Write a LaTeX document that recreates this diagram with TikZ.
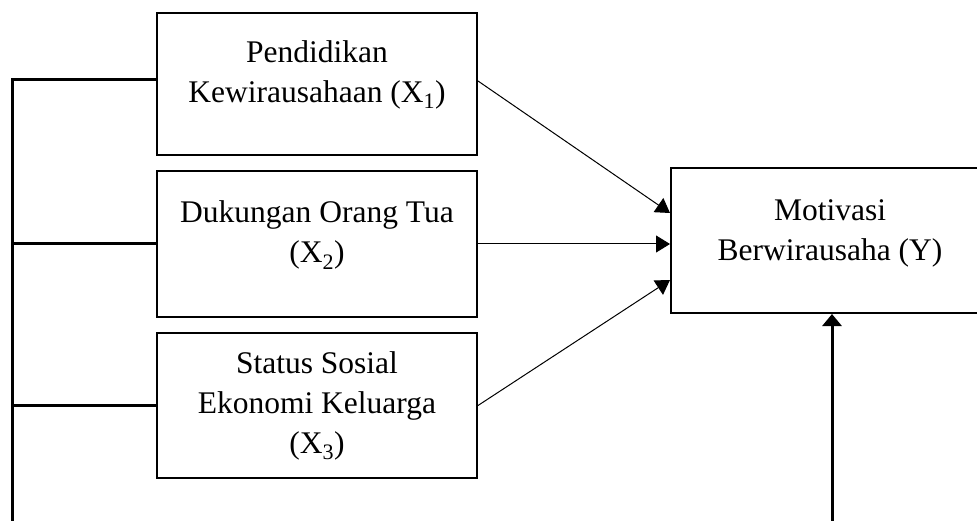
\documentclass[tikz,border=0pt]{standalone}
\usepackage{fontspec}
\setmainfont{Liberation Serif}
\usetikzlibrary{arrows.meta}
\begin{document}
\begin{tikzpicture}[x=1pt,y=-1pt,
  box/.style={draw, line width=2pt, inner sep=0pt},
  txt/.style={inner sep=0pt, align=center, anchor=base, font=\fontsize{31.5}{40}\selectfont},
  thinarrow/.style={line width=1pt, -{Triangle[length=14pt,width=17pt]}},
  thickarrow/.style={line width=3pt, -{Triangle[length=12pt,width=19pt]}},
  bracket/.style={line width=3pt}]
\useasboundingbox (0,0) rectangle (977,521);
% boxes
\node[box, minimum width=320pt, minimum height=142pt] (b1) at (317,84) {};
\node[box, minimum width=320pt, minimum height=146pt] (b2) at (317,244) {};
\node[box, minimum width=320pt, minimum height=145pt] (b3) at (317,405.5) {};
\node[box, minimum width=318pt, minimum height=145pt] (Y) at (830,240.5) {};
% texts (anchored at the baseline of the last line)
\node[txt] (t1) at (317,103) {Pendidikan\\Kewirausahaan (X\textsubscript{1})};
\node[txt] (t2) at (317,263) {Dukungan Orang Tua\\(X\textsubscript{2})};
\node[txt] (t3) at (317,453) {Status Sosial\\Ekonomi Keluarga\\(X\textsubscript{3})};
\node[txt] (tY) at (830,261) {Motivasi\\Berwirausaha (Y)};
% bracket on the left
\coordinate (bl) at (12,521);
\draw[bracket] ([yshift=4pt]b1.west) -| (bl);
\draw[bracket] (b2.west) -- (b2.west -| bl);
\draw[bracket] (b3.west) -- (b3.west -| bl);
% arrows to Y
\draw[thinarrow] ([yshift=3pt]b1.east) -- ([yshift=27.5pt]Y.west);
\draw[thinarrow] (b2.east) -- (Y.west |- b2.east);
\draw[thinarrow] (b3.east) -- ([yshift=-39.5pt]Y.west);
% bottom arrow
\coordinate (ba) at (832,521);
\draw[thickarrow] (ba) -- (ba |- Y.south);
\end{tikzpicture}
\end{document}
